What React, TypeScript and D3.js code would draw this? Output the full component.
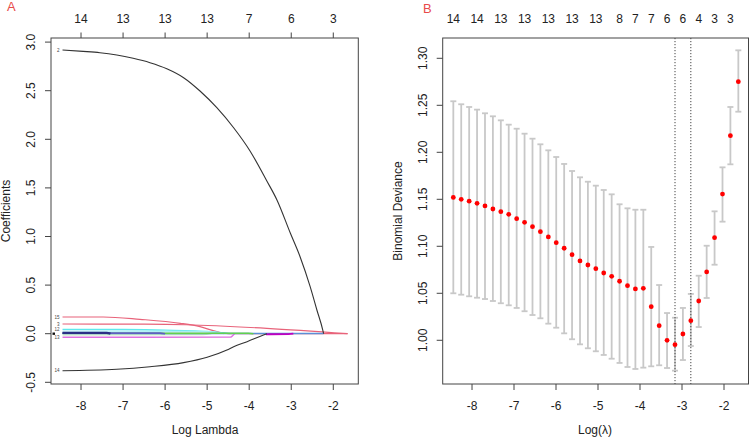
import React from "react";
import * as d3 from "d3";

// ---------- Panel A: coefficient paths ----------
const topTicksA = [-8, -7, -6, -5, -4, -3, -2];
const topLabelsA = ["14", "13", "13", "13", "7", "6", "3"];
const yTicksA = [-0.5, 0, 0.5, 1, 1.5, 2, 2.5, 3];

const coef2Log = [-8.44, -7.95, -7.55, -7.15, -6.76, -6.36, -5.96, -5.56, -5.17, -4.77, -4.37, -3.98, -3.58, -3.34, -3.02, -2.79, -2.55, -2.39, -2.25, -2.23];
const coef2Val = [2.919, 2.905, 2.891, 2.867, 2.833, 2.788, 2.726, 2.634, 2.497, 2.325, 2.119, 1.88, 1.571, 1.376, 1.033, 0.792, 0.484, 0.244, 0.038, 0];
const coef14Log = [-8.44, -7.15, -6.36, -5.56, -5.0, -4.53, -4.37, -4.05, -3.66, -3.58];
const coef14Val = [-0.381, -0.366, -0.34, -0.298, -0.243, -0.168, -0.134, -0.082, -0.013, 0];
const coef15Log = [-8.44, -7.47, -6.6, -5.64, -5.17, -4.77, -4.5, -1.66];
const coef15Val = [0.172, 0.172, 0.148, 0.107, 0.072, 0.021, 0, 0];
const coef3Log = [-8.44, -6.5, -5.5, -3.58, -1.66];
const coef3Val = [0.1, 0.098, 0.092, 0.055, 0];
const coef12Log = [-8.44, -7.0, -6.0, -4.93, -4.45];
const coef12Val = [0.045, 0.043, 0.037, 0.021, 0];
const coef11Log = [-8.44, -5.0, -4.6];
const coef11Val = [0.028, 0.024, 0];
const coef1Log = [-8.44, -7.39, -7.3];
const coef1Val = [0.008, 0.008, 0];
const coef4Log = [-8.44, -6.12, -6.0];
const coef4Val = [0.006, 0.006, 0];
const coef5Log = [-8.44, -4.02, -3.9];
const coef5Val = [0.004, 0.004, 0];
const coef6Log = [-8.44, -2.23];
const coef6Val = [0.002, 0.001];
const coef7Log = [-8.44, -5.1, -4.9];
const coef7Val = [-0.012, -0.01, 0];
const coef13Log = [-8.44, -4.45, -4.35];
const coef13Val = [-0.037, -0.035, 0];
const coef9Log = [-3.6, -3.07, -2.95];
const coef9Val = [-0.006, -0.005, 0];

// ---------- Panel B: cross-validation ----------
const cvLogLambda = [-8.445, -8.257, -8.068, -7.88, -7.691, -7.503, -7.314, -7.126, -6.937, -6.749, -6.56, -6.372, -6.183, -5.995, -5.806, -5.618, -5.429, -5.241, -5.052, -4.864, -4.675, -4.487, -4.298, -4.11, -3.921, -3.733, -3.544, -3.356, -3.167, -2.979, -2.79, -2.602, -2.413, -2.225, -2.036, -1.848, -1.659];
const cvMean = [1.152, 1.15, 1.148, 1.1457, 1.1429, 1.1397, 1.1368, 1.134, 1.1294, 1.1255, 1.1209, 1.1156, 1.11, 1.1039, 1.0979, 1.0911, 1.0844, 1.0801, 1.0762, 1.0716, 1.0681, 1.0628, 1.0581, 1.0546, 1.0553, 1.0358, 1.0155, 1.0, 0.9953, 1.0067, 1.0209, 1.0418, 1.0727, 1.1092, 1.1556, 1.2177, 1.2751];
const cvUpper = [1.2543, 1.2511, 1.2482, 1.2454, 1.2415, 1.2383, 1.234, 1.2294, 1.2251, 1.2198, 1.2145, 1.2085, 1.2021, 1.195, 1.1876, 1.1801, 1.1734, 1.1687, 1.1645, 1.1599, 1.1553, 1.1447, 1.1404, 1.1389, 1.1389, 1.0993, 1.0588, 1.029, 1.024, 1.0344, 1.0493, 1.0687, 1.1006, 1.1372, 1.184, 1.2482, 1.3085];
const cvLower = [1.05, 1.0485, 1.0468, 1.0453, 1.0439, 1.0418, 1.0394, 1.0372, 1.0344, 1.0309, 1.0269, 1.0234, 1.0177, 1.0134, 1.0074, 1.0011, 0.9957, 0.9915, 0.9883, 0.9844, 0.9804, 0.9759, 0.9716, 0.9695, 0.9709, 0.9723, 0.9734, 0.9705, 0.9677, 0.979, 0.9939, 1.0141, 1.045, 1.0804, 1.1262, 1.1872, 1.2432];
const cvTopIdx = [0, 3, 6, 9, 12, 15, 18, 21, 23, 25, 27, 29, 31, 33, 35];
const cvTopLabels = ["14", "14", "13", "13", "13", "13", "13", "8", "7", "7", "6", "6", "4", "3", "3"];
const lambdaMinLog = -3.167;
const lambda1seLog = -2.79;
const xTicks = [-8, -7, -6, -5, -4, -3, -2];
const yTicksB = [1.0, 1.05, 1.1, 1.15, 1.2, 1.25, 1.3];

const FONT = "'Liberation Sans', Arial, sans-serif";
const TXT = "#222";

export default function App() {
  // Panel A geometry
  const xA = d3.scaleLinear().domain([-8.714, -1.405]).range([51, 358.3]);
  const yA = d3.scaleLinear().domain([-0.5175, 3.0422]).range([384, 38]);
  // Panel B geometry
  const xB = d3.scaleLinear().domain([-8.698, -1.417]).range([442.7, 748.5]);
  const yB = d3.scaleLinear().domain([0.9535, 1.3216]).range([384, 38]);

  const paths = [
    { lx: coef3Log, ly: coef3Val, color: "#E8637A", w: 1.2, label: "3" },
    { lx: coef15Log, ly: coef15Val, color: "#E8637A", w: 1.2, label: "15" },
    { lx: coef7Log, ly: coef7Val, color: "#bfe6b8", w: 1.2, label: "" },
    { lx: coef13Log, ly: coef13Val, color: "#e070e0", w: 1.4, label: "13" },
    { lx: coef12Log, ly: coef12Val, color: "#5fe8ec", w: 1.3, label: "12" },
    { lx: coef11Log, ly: coef11Val, color: "#a6eef3", w: 1.2, label: "" },
    { lx: coef6Log, ly: coef6Val, color: "#5b8fd6", w: 1.5, label: "" },
    { lx: coef5Log, ly: coef5Val, color: "#61D04F", w: 1.6, label: "" },
    { lx: coef4Log, ly: coef4Val, color: "#5d5fc4", w: 1.6, label: "" },
    { lx: coef1Log, ly: coef1Val, color: "#2b2f85", w: 2.4, label: "" },
    { lx: coef9Log, ly: coef9Val, color: "#c000c0", w: 1.8, label: "" },
    { lx: coef14Log, ly: coef14Val, color: "#333", w: 1.1, label: "14" },
    { lx: coef2Log, ly: coef2Val, color: "#333", w: 1.1, label: "2" },
  ];

  const lineA = (lx: number[], ly: number[]) =>
    d3
      .line<number>()
      .x((_, i) => xA(lx[i]))
      .y((d) => yA(d))
      .curve(d3.curveMonotoneX)(ly) || "";

  const boxStroke = "#444";

  return (
    <svg
      width={750}
      height={438}
      style={{ position: "absolute", left: 0, top: 0, background: "#fff", fontFamily: FONT }}
    >
      <rect x={0} y={0} width={750} height={438} fill="#fff" />

      {/* ===== Panel A ===== */}
      <text x={7} y={11} fontSize={13} fill="#e84a4a">A</text>
      {topTicksA.map((t, i) => (
        <g key={"ta" + i}>
          <line x1={xA(t)} x2={xA(t)} y1={38} y2={32.5} stroke={boxStroke} />
          <text x={xA(t)} y={22.5} fontSize={12} textAnchor="middle" fill={TXT}>{topLabelsA[i]}</text>
        </g>
      ))}
      {xTicks.map((t) => (
        <g key={"ba" + t}>
          <line x1={xA(t)} x2={xA(t)} y1={384} y2={390} stroke={boxStroke} />
          <text x={xA(t)} y={409.5} fontSize={12} textAnchor="middle" fill={TXT}>{t}</text>
        </g>
      ))}
      {yTicksA.map((t) => (
        <g key={"la" + t}>
          <line x1={51} x2={45} y1={yA(t)} y2={yA(t)} stroke={boxStroke} />
          <text
            transform={`translate(${34.5},${yA(t)}) rotate(-90)`}
            fontSize={12}
            textAnchor="middle"
            fill={TXT}
          >
            {t.toFixed(1)}
          </text>
        </g>
      ))}
      <text transform={`translate(10,211) rotate(-90)`} fontSize={12} textAnchor="middle" fill={TXT}>Coefficients</text>
      <text x={205} y={434} fontSize={12} textAnchor="middle" fill={TXT}>Log Lambda</text>

      <g>
        {paths.map((p, i) => (
          <path key={"p" + i} d={lineA(p.lx, p.ly)} fill="none" stroke={p.color} strokeWidth={p.w} />
        ))}
      </g>
      <g>
        {paths
          .filter((p) => p.label !== "")
          .map((p, i) => (
            <text
              key={"lab" + i}
              x={xA(p.lx[0]) - 3}
              y={yA(p.ly[0]) + 1.6}
              fontSize={4.5}
              textAnchor="end"
              fill="#444"
            >
              {p.label}
            </text>
          ))}
        <rect x={52.5} y={yA(0.012)} width={2.5} height={yA(-0.012) - yA(0.012)} fill="#111" />
      </g>
      <rect x={51} y={38} width={307.3} height={346} fill="none" stroke={boxStroke} strokeWidth={1} />

      {/* ===== Panel B ===== */}
      <text x={423} y={12.5} fontSize={13} fill="#e84a4a">B</text>
      {cvTopIdx.map((idx, i) => (
        <text key={"tb" + i} x={xB(cvLogLambda[idx])} y={22.5} fontSize={12} textAnchor="middle" fill={TXT}>
          {cvTopLabels[i]}
        </text>
      ))}
      {xTicks.map((t) => (
        <g key={"bb" + t}>
          <line x1={xB(t)} x2={xB(t)} y1={384} y2={390} stroke={boxStroke} />
          <text x={xB(t)} y={409.5} fontSize={12} textAnchor="middle" fill={TXT}>{t}</text>
        </g>
      ))}
      {yTicksB.map((t) => (
        <g key={"lb" + t}>
          <line x1={442.7} x2={436.7} y1={yB(t)} y2={yB(t)} stroke={boxStroke} />
          <text
            transform={`translate(${427},${yB(t)}) rotate(-90)`}
            fontSize={12}
            textAnchor="middle"
            fill={TXT}
          >
            {t.toFixed(2)}
          </text>
        </g>
      ))}
      <text transform={`translate(402,211) rotate(-90)`} fontSize={12} textAnchor="middle" fill={TXT}>Binomial Deviance</text>
      <text x={595} y={434} fontSize={12} textAnchor="middle" fill={TXT}>Log(λ)</text>

      <g stroke="#c8c8c8" strokeWidth={1.8}>
        {cvLogLambda.map((l, i) => (
          <g key={"eb" + i}>
            <line x1={xB(l)} x2={xB(l)} y1={yB(cvUpper[i])} y2={yB(cvLower[i])} />
            <line x1={xB(l) - 3} x2={xB(l) + 3} y1={yB(cvUpper[i])} y2={yB(cvUpper[i])} />
            <line x1={xB(l) - 3} x2={xB(l) + 3} y1={yB(cvLower[i])} y2={yB(cvLower[i])} />
          </g>
        ))}
      </g>
      {[lambdaMinLog, lambda1seLog].map((l, i) => (
        <line key={"vl" + i} x1={xB(l)} x2={xB(l)} y1={38} y2={384} stroke="#444" strokeWidth={1} strokeDasharray="1.2,1.8" />
      ))}
      {cvLogLambda.map((l, i) => (
        <circle key={"pt" + i} cx={xB(l)} cy={yB(cvMean[i])} r={2.4} fill="#ff0000" />
      ))}
      <rect x={442.7} y={38} width={305.8} height={346} fill="none" stroke={boxStroke} strokeWidth={1} />
    </svg>
  );
}
